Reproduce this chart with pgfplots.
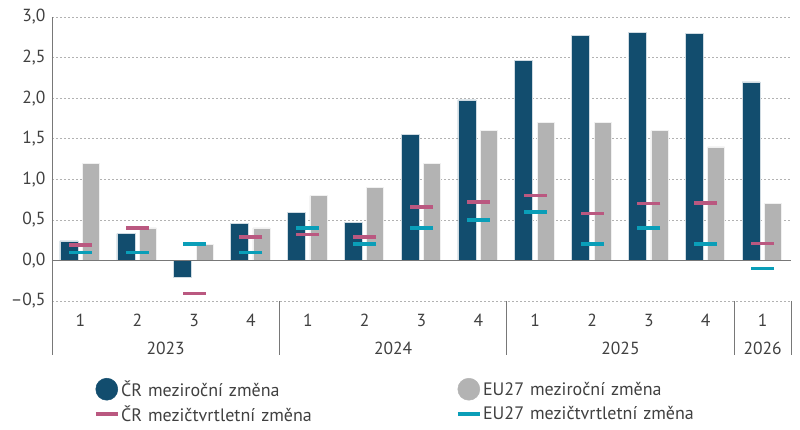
\documentclass[border=0pt]{standalone}
\usepackage{fontspec}
\setmainfont{PT Sans}
\usepackage{pgfplots}
\pgfplotsset{compat=1.18}
\definecolor{crblue}{RGB}{18,77,110}
\definecolor{eugray}{RGB}{179,179,179}
\definecolor{crpink}{RGB}{186,88,128}
\definecolor{euteal}{RGB}{10,158,184}
\definecolor{txt}{RGB}{64,64,64}
\definecolor{axgray}{RGB}{120,120,120}
\begin{document}
\begin{tikzpicture}[font=\fontsize{17.5}{20}\selectfont, text=txt]
\path[use as bounding box] (-52pt,-129pt) rectangle (748pt,301pt);
\begin{axis}[
  scale only axis, width=739pt, height=284pt,
  xmin=-0.5, xmax=12.5, ymin=-0.5, ymax=3,
  axis x line*=bottom, axis y line*=left,
  x axis line style={draw=none},
  y axis line style={draw=axgray, line width=0.9pt, -},
  ytick={-0.5,0,0.5,1,1.5,2,2.5,3},
  yticklabels={{–0,5},{0,0},{0,5},{1,0},{1,5},{2,0},{2,5},{3,0}},
  xtick={0,1,2,3,4,5,6,7,8,9,10,11,12},
  xticklabels={1,2,3,4,1,2,3,4,1,2,3,4,1},
  major tick length=0pt,
  yticklabel style={anchor=east, xshift=-3pt, text=txt},
  xticklabel style={anchor=center, yshift=-19pt, text=txt},
  ymajorgrids,
  grid style={dash pattern=on 2pt off 2pt, draw=gray!60, line width=0.7pt},
  clip=false,
  legend columns=2,
  legend cell align=left,
  legend style={at={(0.0568,-0.2711)}, anchor=north west, draw=none, fill=none,
    inner sep=0pt, outer sep=0pt, row sep=5pt, column sep=0pt, font=\fontsize{18}{20}\selectfont,
    nodes={inner sep=0pt, anchor=west, text width=335pt, align=left, text=txt}},
]
% CR year-on-year
\addplot[ybar, bar width=18pt, bar shift=-11.5pt, fill=crblue, draw=white!80!crblue, line width=0.5pt,
  legend image code/.code={\fill[crblue] (11pt,0pt) circle (11pt); \path (25pt,0pt);}]
  coordinates {(0,0.24) (1,0.33) (2,-0.21) (3,0.46) (4,0.59) (5,0.47) (6,1.55) (7,1.98) (8,2.47) (9,2.77) (10,2.81) (11,2.80) (12,2.20)};
\addlegendentry{ČR meziroční změna}
% EU year-on-year
\addplot[ybar, bar width=17pt, bar shift=10.5pt, fill=eugray, draw=white!80!eugray, line width=0.5pt,
  legend image code/.code={\fill[eugray] (11pt,0pt) circle (11pt); \path (25pt,0pt);}]
  coordinates {(0,1.2) (1,0.4) (2,0.2) (3,0.4) (4,0.8) (5,0.9) (6,1.2) (7,1.6) (8,1.7) (9,1.7) (10,1.6) (11,1.4) (12,0.7)};
\addlegendentry{EU27 meziroční změna}
% CR quarter-on-quarter
\addplot[only marks, mark=-, mark size=11.5pt, mark options={line width=3.6pt, draw=crpink, line cap=butt},
  legend image code/.code={\draw[crpink, line width=3.6pt] (0pt,0pt) -- (22pt,0pt); \path (25pt,0pt);}]
  coordinates {(0,0.19) (1,0.40) (2,-0.41) (3,0.29) (4,0.32) (5,0.29) (6,0.66) (7,0.72) (8,0.80) (9,0.58) (10,0.70) (11,0.71) (12,0.21)};
\addlegendentry{ČR mezičtvrtletní změna}
% EU quarter-on-quarter
\addplot[only marks, mark=-, mark size=11.5pt, mark options={line width=3.6pt, draw=euteal, line cap=butt},
  legend image code/.code={\draw[euteal, line width=3.6pt] (0pt,0pt) -- (22pt,0pt); \path (25pt,0pt);}]
  coordinates {(0,0.1) (1,0.1) (2,0.2) (3,0.1) (4,0.4) (5,0.2) (6,0.4) (7,0.5) (8,0.6) (9,0.2) (10,0.4) (11,0.2) (12,-0.1)};
\addlegendentry{EU27 mezičtvrtletní změna}
% zero line
\draw[axgray, line width=1.1pt] (axis cs:-0.5,0) -- (axis cs:12.5,0);
% group separators
\draw[axgray, line width=0.9pt] (axis cs:-0.5,-0.5) -- ++(0pt,-54pt);
\draw[axgray, line width=0.9pt] (axis cs:3.5,-0.5) -- ++(0pt,-54pt);
\draw[axgray, line width=0.9pt] (axis cs:7.5,-0.5) -- ++(0pt,-54pt);
\draw[axgray, line width=0.9pt] (axis cs:11.5,-0.5) -- ++(0pt,-54pt);
\draw[axgray, line width=0.9pt] (axis cs:12.5,-0.5) -- ++(0pt,-54pt);
\node[text=txt] at ([yshift=-47.5pt]axis cs:1.5,-0.5) {2023};
\node[text=txt] at ([yshift=-47.5pt]axis cs:5.5,-0.5) {2024};
\node[text=txt] at ([yshift=-47.5pt]axis cs:9.5,-0.5) {2025};
\node[text=txt] at ([yshift=-47.5pt]axis cs:12,-0.5) {2026};
\end{axis}
\end{tikzpicture}
\end{document}
